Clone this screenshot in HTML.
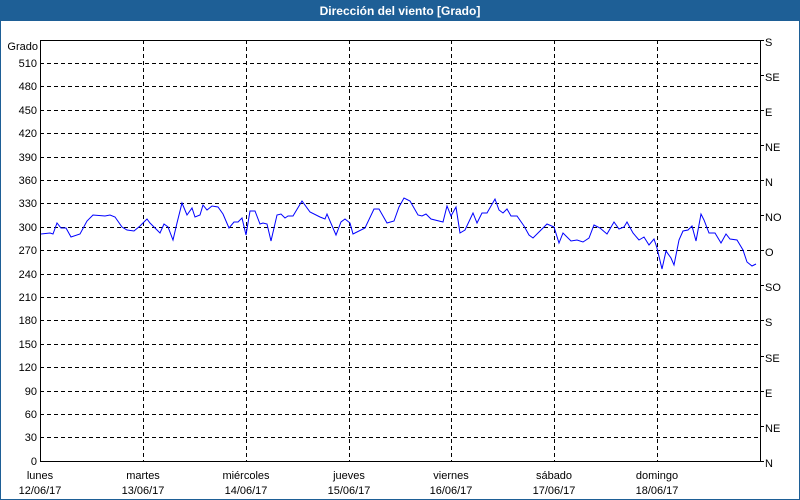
<!DOCTYPE html>
<html><head><meta charset="utf-8"><style>
body{margin:0;background:#fff;}
svg{display:block;font-family:"Liberation Sans",sans-serif;font-size:11px;}
</style></head><body>
<svg width="800" height="500" viewBox="0 0 800 500">
<rect x="0" y="0" width="800" height="500" fill="#fff"/>
<rect x="0" y="0" width="800" height="21" fill="#1e5f96"/>
<rect x="0.5" y="0.5" width="799" height="499" fill="none" stroke="#1e5f96"/>
<text x="400" y="15" text-anchor="middle" fill="#fff" font-weight="bold" font-size="12">Dirección del viento [Grado]</text>
<g stroke="#000" stroke-dasharray="4,3" stroke-width="1">
<line x1="40" x2="760" y1="63.5" y2="63.5"/><line x1="40" x2="760" y1="86.5" y2="86.5"/><line x1="40" x2="760" y1="110.5" y2="110.5"/><line x1="40" x2="760" y1="133.5" y2="133.5"/><line x1="40" x2="760" y1="157.5" y2="157.5"/><line x1="40" x2="760" y1="180.5" y2="180.5"/><line x1="40" x2="760" y1="203.5" y2="203.5"/><line x1="40" x2="760" y1="227.5" y2="227.5"/><line x1="40" x2="760" y1="250.5" y2="250.5"/><line x1="40" x2="760" y1="274.5" y2="274.5"/><line x1="40" x2="760" y1="297.5" y2="297.5"/><line x1="40" x2="760" y1="320.5" y2="320.5"/><line x1="40" x2="760" y1="344.5" y2="344.5"/><line x1="40" x2="760" y1="367.5" y2="367.5"/><line x1="40" x2="760" y1="391.5" y2="391.5"/><line x1="40" x2="760" y1="414.5" y2="414.5"/><line x1="40" x2="760" y1="437.5" y2="437.5"/>
<line x1="143.5" x2="143.5" y1="40" y2="461"/><line x1="246.5" x2="246.5" y1="40" y2="461"/><line x1="349.5" x2="349.5" y1="40" y2="461"/><line x1="451.5" x2="451.5" y1="40" y2="461"/><line x1="554.5" x2="554.5" y1="40" y2="461"/><line x1="657.5" x2="657.5" y1="40" y2="461"/>
</g>
<g stroke="#000" stroke-width="1" fill="none">
<line x1="40.5" x2="40.5" y1="40" y2="462"/>
<line x1="40" x2="764" y1="40.5" y2="40.5"/>
<line x1="40" x2="764" y1="461.5" y2="461.5"/>
<line x1="760.5" x2="760.5" y1="40" y2="462"/>
<line x1="760" x2="764" y1="75.5" y2="75.5"/><line x1="760" x2="764" y1="110.5" y2="110.5"/><line x1="760" x2="764" y1="145.5" y2="145.5"/><line x1="760" x2="764" y1="180.5" y2="180.5"/><line x1="760" x2="764" y1="215.5" y2="215.5"/><line x1="760" x2="764" y1="250.5" y2="250.5"/><line x1="760" x2="764" y1="285.5" y2="285.5"/><line x1="760" x2="764" y1="320.5" y2="320.5"/><line x1="760" x2="764" y1="356.5" y2="356.5"/><line x1="760" x2="764" y1="391.5" y2="391.5"/><line x1="760" x2="764" y1="426.5" y2="426.5"/>
</g>
<g fill="#000" text-anchor="end">
<text x="38" y="50">Grado</text>
<text x="37" y="67">510</text><text x="37" y="90">480</text><text x="37" y="114">450</text><text x="37" y="137">420</text><text x="37" y="161">390</text><text x="37" y="184">360</text><text x="37" y="207">330</text><text x="37" y="231">300</text><text x="37" y="254">270</text><text x="37" y="278">240</text><text x="37" y="301">210</text><text x="37" y="324">180</text><text x="37" y="348">150</text><text x="37" y="371">120</text><text x="37" y="395">90</text><text x="37" y="418">60</text><text x="37" y="441">30</text><text x="37" y="465">0</text>
</g>
<g fill="#000">
<text x="765" y="46">S</text><text x="765" y="81">SE</text><text x="765" y="116">E</text><text x="765" y="151">NE</text><text x="765" y="186">N</text><text x="765" y="221">NO</text><text x="765" y="256">O</text><text x="765" y="291">SO</text><text x="765" y="326">S</text><text x="765" y="362">SE</text><text x="765" y="397">E</text><text x="765" y="432">NE</text><text x="765" y="467">N</text>
</g>
<g fill="#000" text-anchor="middle">
<text x="40" y="479">lunes</text><text x="40" y="494">12/06/17</text>
<text x="143" y="479">martes</text><text x="143" y="494">13/06/17</text>
<text x="246" y="479">miércoles</text><text x="246" y="494">14/06/17</text>
<text x="349" y="479">jueves</text><text x="349" y="494">15/06/17</text>
<text x="451" y="479">viernes</text><text x="451" y="494">16/06/17</text>
<text x="554" y="479">sábado</text><text x="554" y="494">17/06/17</text>
<text x="657" y="479">domingo</text><text x="657" y="494">18/06/17</text>
</g>
<polyline fill="none" stroke="#0000ff" stroke-width="1" points="41,234 50,233 53,234 57,223 61,228 66,228 71,237 80,234 87,221 93,215 105,216 110,215 115,217 122,227 127,230 134,231 140,226 147,219 150,223 160,233 164,224 168,227 173,240 177,223 182,203 187,215 192,208 195,217 200,215 203,205 207,210 212,206 218,207 223,214 229,228 234,222 238,222 242,218 246,235 250,211 255,211 260,224 263,223 267,224 271,241 277,215 281,214 285,218 288,216 293,216 302,201 310,212 320,217 325,219 327,214 336,235 341,222 345,219 350,223 353,234 365,228 374,209 379,209 387,223 394,221 399,207 404,198 410,201 418,215 422,216 426,214 431,219 443,222 447,206 451,216 456,207 460,233 465,230 473,213 477,223 482,213 487,213 495,199 499,210 503,213 507,209 511,216 517,216 524,226 529,235 533,238 540,231 547,224 554,227 559,243 563,233 571,241 577,240 583,242 589,238 594,225 600,228 607,234 614,222 619,229 624,227 627,222 633,233 639,240 644,237 649,245 654,239 657,248 662,269 666,251 671,258 674,265 679,240 683,231 688,230 692,226 696,241 701,214 704,220 709,233 715,233 721,243 726,234 730,239 737,240 743,250 747,262 752,266 756,264"/>
</svg>
</body></html>
